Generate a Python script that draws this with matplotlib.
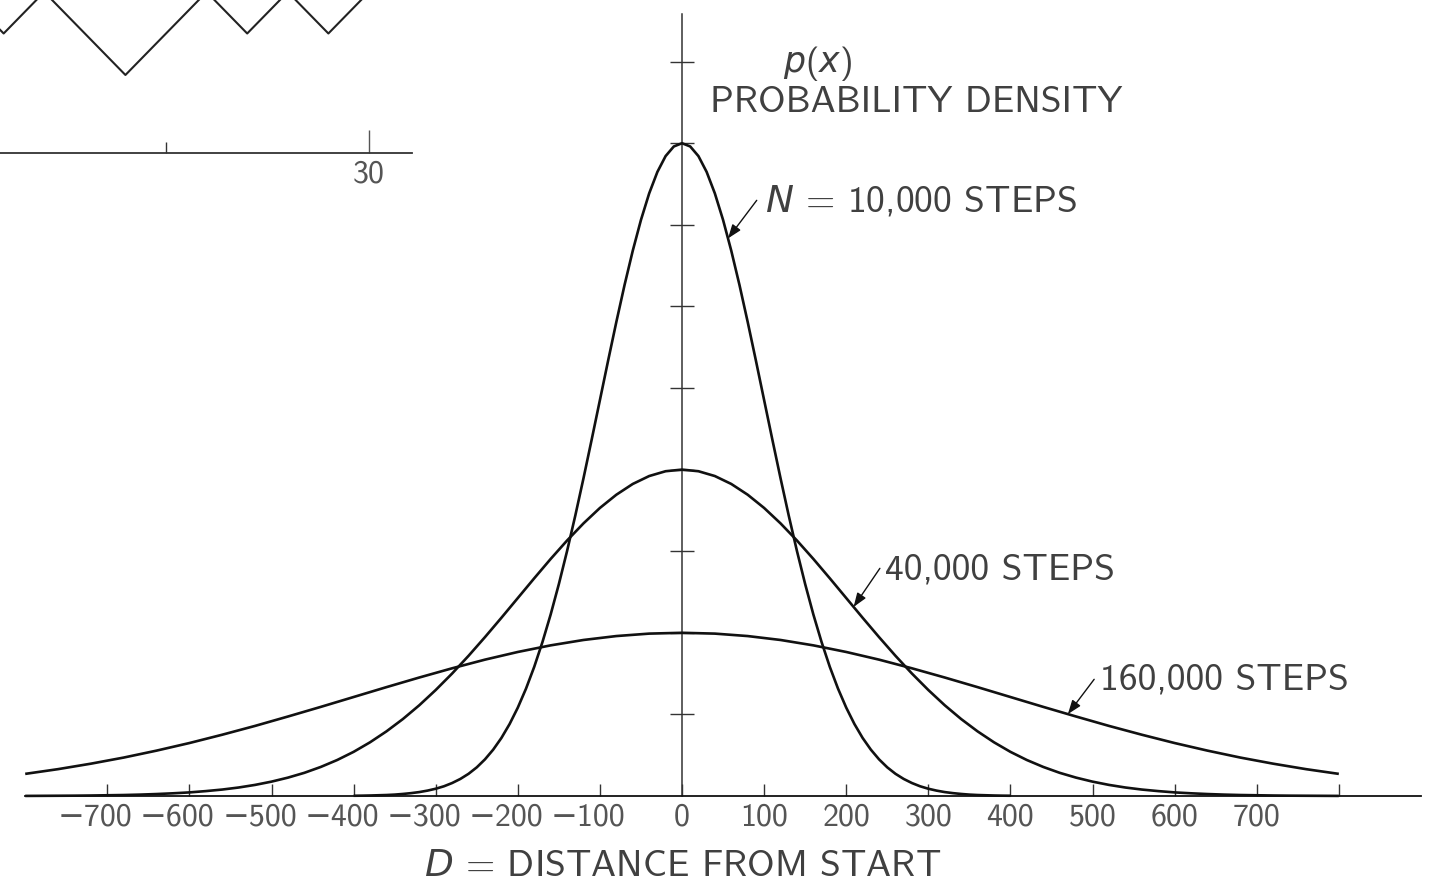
import numpy as np
import matplotlib
matplotlib.use("Agg")
import matplotlib.pyplot as plt
from matplotlib.transforms import ScaledTranslation

# ---------------- data ----------------
# densities in units of the y-axis tick spacing
x_10k = np.arange(-400, 401, 10)
p_10k = [0.003, 0.004, 0.006, 0.009, 0.012, 0.017, 0.025, 0.035, 0.048, 0.066,
         0.089, 0.119, 0.159, 0.209, 0.272, 0.351, 0.449, 0.568, 0.711, 0.882,
         1.083, 1.316, 1.583, 1.886, 2.224, 2.597, 3.002, 3.436, 3.894, 4.369,
         4.852, 5.336, 5.809, 6.262, 6.682, 7.060, 7.385, 7.648, 7.842, 7.960,
         8.000,
         7.960, 7.842, 7.648, 7.385, 7.060, 6.682, 6.262, 5.809, 5.336, 4.852,
         4.369, 3.894, 3.436, 3.002, 2.597, 2.224, 1.886, 1.583, 1.316, 1.083,
         0.882, 0.711, 0.568, 0.449, 0.351, 0.272, 0.209, 0.159, 0.119, 0.089,
         0.066, 0.048, 0.035, 0.025, 0.017, 0.012, 0.009, 0.006, 0.004, 0.003]

x_40k = np.arange(-800, 801, 20)
p_40k = [0.001, 0.002, 0.003, 0.004, 0.006, 0.009, 0.012, 0.017, 0.024, 0.033,
         0.044, 0.060, 0.079, 0.104, 0.136, 0.176, 0.225, 0.284, 0.356, 0.441,
         0.541, 0.658, 0.792, 0.943, 1.112, 1.299, 1.501, 1.718, 1.947, 2.184,
         2.426, 2.668, 2.905, 3.131, 3.341, 3.530, 3.692, 3.824, 3.921, 3.980,
         4.000,
         3.980, 3.921, 3.824, 3.692, 3.530, 3.341, 3.131, 2.905, 2.668, 2.426,
         2.184, 1.947, 1.718, 1.501, 1.299, 1.112, 0.943, 0.792, 0.658, 0.541,
         0.441, 0.356, 0.284, 0.225, 0.176, 0.136, 0.104, 0.079, 0.060, 0.044,
         0.033, 0.024, 0.017, 0.012, 0.009, 0.006, 0.004, 0.003, 0.002, 0.001]

x_160k = np.arange(-800, 801, 40)
p_160k = [0.271, 0.329, 0.396, 0.471, 0.556, 0.649, 0.751, 0.859, 0.974, 1.092,
          1.213, 1.334, 1.452, 1.565, 1.671, 1.765, 1.846, 1.912, 1.960, 1.990,
          2.000,
          1.990, 1.960, 1.912, 1.846, 1.765, 1.671, 1.565, 1.452, 1.334, 1.213,
          1.092, 0.974, 0.859, 0.751, 0.649, 0.556, 0.471, 0.396, 0.329, 0.271]

x_ticks = [-700, -600, -500, -400, -300, -200, -100, 0, 100, 200, 300, 400, 500, 600, 700]
x_tick_labels = ["\u2212700", "\u2212600", "\u2212500", "\u2212400", "\u2212300", "\u2212200", "\u2212100",
                 "0", "100", "200", "300", "400", "500", "600", "700"]
y_ticks = [1, 2, 3, 4, 5, 6, 7, 8, 9]

# random-walk fragment (top-left inset)
walk_steps = [20, 21, 22, 23, 24, 25, 26, 27, 28, 29, 30, 31]
walk_pos = [0, -1, 0, -1, -2, -1, 0, -1, 0, -1, 0, 1]

# ---------------- style ----------------
plt.rcParams['mathtext.fontset'] = 'custom'
plt.rcParams['mathtext.rm'] = 'cmss10'
plt.rcParams['mathtext.it'] = 'DejaVu Sans:italic'
plt.rcParams['axes.unicode_minus'] = True
FAM = ['cmss10', 'DejaVu Sans']
TXT = '#404040'
TICKC = '#555555'
LINE = '#111111'
BIG = 27
SMALL = 23

W, H = 1438, 882
fig = plt.figure(figsize=(W / 100, H / 100), dpi=100)

# ---------------- main axes ----------------
ax = fig.add_axes([0, 0, 1, 1])
ax.patch.set_alpha(0)
ax.set_xlim(-830.7, 920.8)
ax.set_ylim(-1.054, 9.755)

for xs, ys in [(x_10k, p_10k), (x_40k, p_40k), (x_160k, p_160k)]:
    ax.plot(xs, ys, color=LINE, lw=1.9, solid_capstyle='butt', solid_joinstyle='round', zorder=3)

for s in ['top', 'right']:
    ax.spines[s].set_visible(False)
ax.spines['bottom'].set_position(('data', 0))
ax.spines['bottom'].set_bounds(-800, 900)
ax.spines['left'].set_position(('data', 0))
ax.spines['left'].set_bounds(0, 9.58)
ax.spines['bottom'].set_linewidth(1.3)
ax.spines['left'].set_linewidth(1.1)
ax.spines['bottom'].set_color(LINE)
ax.spines['left'].set_color('#333333')

ax.set_xticks(x_ticks + [800])
ax.set_xticklabels(x_tick_labels + [""], fontfamily=FAM)
ax.tick_params(axis='x', direction='in', length=8.5, width=1.0, colors='#333333',
               pad=5, labelsize=SMALL, labelcolor=TICKC)
ax.set_yticks(y_ticks)
ax.set_yticklabels([])
ax.tick_params(axis='y', direction='inout', length=17, width=1.0, colors='#333333')

# hang the minus signs so the digits sit centred under their ticks
for lab in ax.get_xticklabels():
    if lab.get_text().startswith("\u2212"):
        lab.set_transform(lab.get_transform() + ScaledTranslation(-0.12, 0, fig.dpi_scale_trans))

# ---------------- labels ----------------
def fx(px):
    return px / W

def fy(py):
    return 1 - py / H

fig.text(fx(818), fy(72), r"$p(x)$", fontsize=25, color=TXT, ha='center', va='baseline')
fig.text(fx(916), fy(112), "PROBABILITY DENSITY", fontsize=BIG, color=TXT, ha='center',
         va='baseline', family=FAM)
fig.text(fx(765), fy(212), r"$N$ = 10,000 STEPS", fontsize=BIG, color=TXT, ha='left',
         va='baseline', family=FAM)
fig.text(fx(885), fy(580), "40,000 STEPS", fontsize=BIG, color=TXT, ha='left',
         va='baseline', family=FAM)
fig.text(fx(1100), fy(690), "160,000 STEPS", fontsize=BIG, color=TXT, ha='left',
         va='baseline', family=FAM)
fig.text(fx(683), fy(876), r"$D$ = DISTANCE FROM START", fontsize=BIG, color=TXT, ha='center',
         va='baseline', family=FAM)

arrow_kw = dict(arrowstyle='-|>,head_length=0.6,head_width=0.22', color=LINE, lw=1.0,
                shrinkA=0, shrinkB=0, mutation_scale=14)
for xs, ys, xt, tail in [(x_10k, p_10k, 56, (91, 7.30)),
                         (x_40k, p_40k, 209, (241, 2.79)),
                         (x_160k, p_160k, 470, (502, 1.43))]:
    ax.annotate("", xy=(xt, np.interp(xt, xs, ys)), xytext=tail,
                xycoords='data', textcoords='data', arrowprops=arrow_kw)

# ---------------- inset: fragment of a random walk ----------------
ax2 = fig.add_axes([0, fy(153), 412 / W, 153 / H])
ax2.patch.set_alpha(0)
ax2.plot(walk_steps, walk_pos, color='#222222', lw=1.5)
ax2.set_xlim(20.91, 31.06)
ax2.set_ylim(-3.88, -0.193)
for s in ['top', 'right', 'left']:
    ax2.spines[s].set_visible(False)
ax2.spines['bottom'].set_linewidth(1.3)
ax2.spines['bottom'].set_color('#333333')
ax2.set_yticks([])
ax2.set_xticks([30])
ax2.set_xticklabels(["30"], fontfamily=FAM)
ax2.set_xticks([25], minor=True)
ax2.tick_params(axis='x', which='major', direction='in', length=16.5, width=1.0,
                colors='#555555', labelsize=SMALL, labelcolor=TICKC, pad=5)
ax2.tick_params(axis='x', which='minor', direction='in', length=8, width=1.0, colors='#333333')

fig.savefig("out.png", dpi=100)
